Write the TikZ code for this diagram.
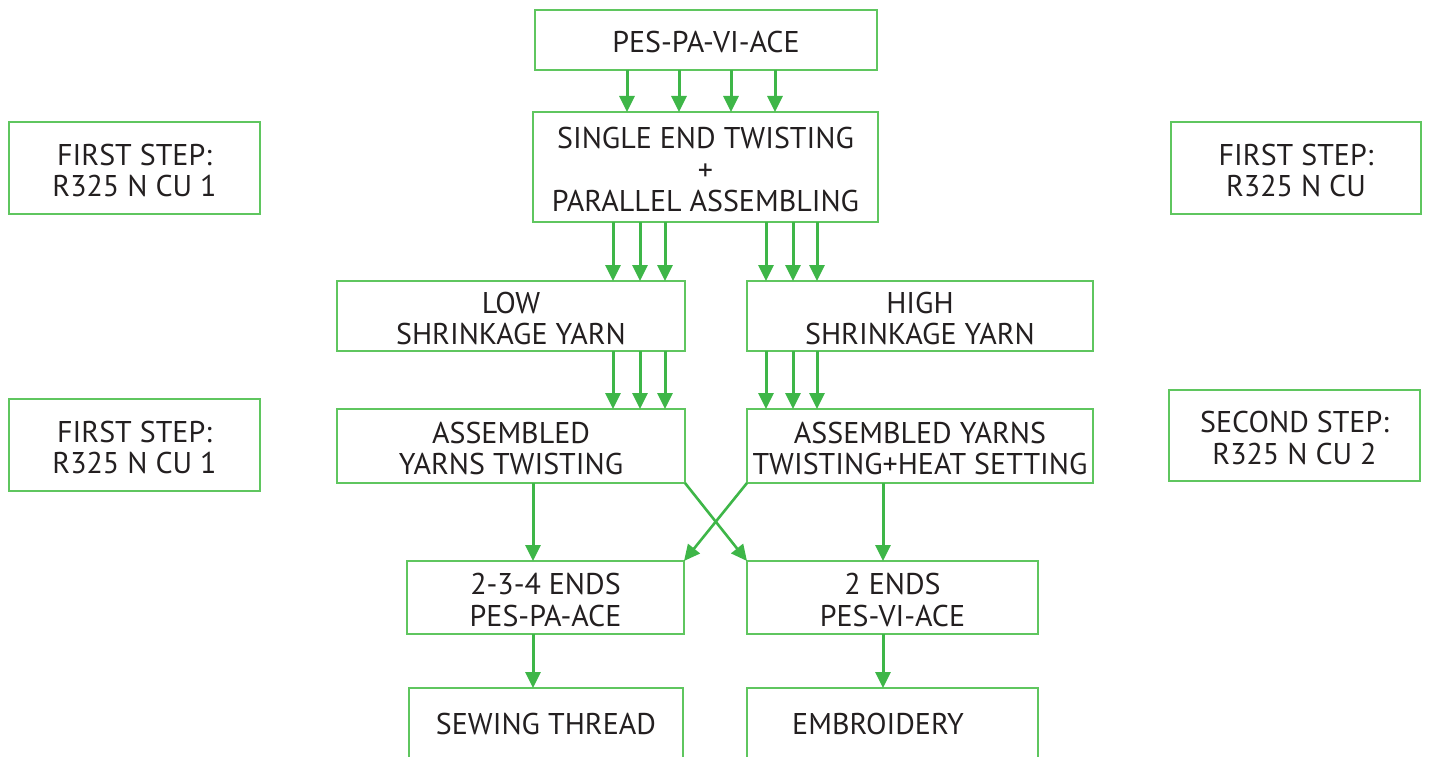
\documentclass[tikz,border=0pt]{standalone}
\usepackage{fontspec}
\setmainfont{PT Sans}
\usetikzlibrary{arrows.meta}
\definecolor{boxgreen}{RGB}{95,198,95}
\definecolor{arrgreen}{RGB}{62,182,72}
\definecolor{txt}{RGB}{35,31,32}
\begin{document}
\begin{tikzpicture}[x=1pt,y=-1pt,
  box/.style={draw=boxgreen, line width=1.6pt, inner sep=0pt, outer sep=0pt},
  lbl/.style={inner sep=0pt, align=center, text=txt, font=\fontsize{30}{31.5}\selectfont},
  arr/.style={draw=arrgreen, line width=3pt, -{Triangle[length=16pt,width=15pt]}}]
\useasboundingbox (0,0) rectangle (1430,757);
\clip (0,0) rectangle (1430,757);
\node[box, minimum width=342pt, minimum height=60pt] (top) at (706,40) {};
\node[box, minimum width=345pt, minimum height=110pt] (sing) at (705.5,167) {};
\node[box, minimum width=348pt, minimum height=70pt] (low) at (511,316) {};
\node[box, minimum width=346pt, minimum height=70pt] (high) at (920,316) {};
\node[box, minimum width=348pt, minimum height=74pt] (asml) at (511,446) {};
\node[box, minimum width=346pt, minimum height=74pt] (asmh) at (920,446) {};
\node[box, minimum width=277pt, minimum height=73pt] (endsl) at (545.5,597.5) {};
\node[box, minimum width=291pt, minimum height=73pt] (endsr) at (892.5,597.5) {};
\node[box, minimum width=274pt, minimum height=112pt, anchor=north] (sew) at (546,688) {};
\node[box, minimum width=291pt, minimum height=112pt, anchor=north] (emb) at (892.5,688) {};
\node[box, minimum width=251pt, minimum height=92pt] (l1) at (134.5,168) {};
\node[box, minimum width=251pt, minimum height=92pt] (l2) at (134.5,445) {};
\node[box, minimum width=250pt, minimum height=92pt] (r1) at (1296,168) {};
\node[box, minimum width=251pt, minimum height=91pt] (r2) at (1294.5,435.5) {};
\node[lbl] (topt) at ([yshift=-2.5pt]top.center) {PES-PA-VI-ACE};
\node[lbl] (singt) at ([yshift=-2.5pt]sing.center) {SINGLE END TWISTING\\+\\PARALLEL ASSEMBLING};
\node[lbl] (lowt) at ([yshift=-2.5pt]low.center) {LOW\\SHRINKAGE YARN};
\node[lbl] (hight) at ([yshift=-2.5pt]high.center) {HIGH\\SHRINKAGE YARN};
\node[lbl] (asmlt) at ([yshift=-2.5pt]asml.center) {ASSEMBLED\\YARNS TWISTING};
\node[lbl] (asmht) at ([yshift=-2.5pt]asmh.center) {ASSEMBLED YARNS\\TWISTING+HEAT SETTING};
\node[lbl] (endslt) at ([yshift=-2.5pt]endsl.center) {2-3-4 ENDS\\PES-PA-ACE};
\node[lbl] (endsrt) at ([yshift=-2.5pt]endsr.center) {2 ENDS\\PES-VI-ACE};
\node[lbl] (sewt) at (546,724) {SEWING THREAD};
\node[lbl] (embt) at (878,724) {EMBROIDERY};
\node[lbl] (l1t) at ([yshift=-2.5pt]l1.center) {FIRST STEP:\\R325 N CU 1};
\node[lbl] (l2t) at ([yshift=-2.5pt]l2.center) {FIRST STEP:\\R325 N CU 1};
\node[lbl] (r1t) at ([yshift=-2.5pt]r1.center) {FIRST STEP:\\R325 N CU};
\node[lbl] (r2t) at ([yshift=-2.5pt]r2.center) {SECOND STEP:\\R325 N CU 2};
\foreach \xx in {627,679,731,775} \draw[arr] (top.south -| \xx,0) -- (sing.north -| \xx,0);
\foreach \xx in {613,640,665} {
  \draw[arr] (sing.south -| \xx,0) -- (low.north -| \xx,0);
  \draw[arr] (low.south -| \xx,0) -- (asml.north -| \xx,0);}
\foreach \xx in {766,793,817} {
  \draw[arr] (sing.south -| \xx,0) -- (high.north -| \xx,0);
  \draw[arr] (high.south -| \xx,0) -- (asmh.north -| \xx,0);}
\draw[arr] (asml.south -| 533,0) -- (endsl.north -| 533,0);
\draw[arr] (endsl.south -| 533,0) -- (sew.north -| 533,0);
\draw[arr] (asmh.south -| 883,0) -- (endsr.north -| 883,0);
\draw[arr] (endsr.south -| 883,0) -- (emb.north -| 883,0);
\draw[arr, line width=2.6pt] (asml.south east) -- (endsr.north west);
\draw[arr, line width=2.6pt] (asmh.south west) -- (endsl.north east);
\end{tikzpicture}
\end{document}
